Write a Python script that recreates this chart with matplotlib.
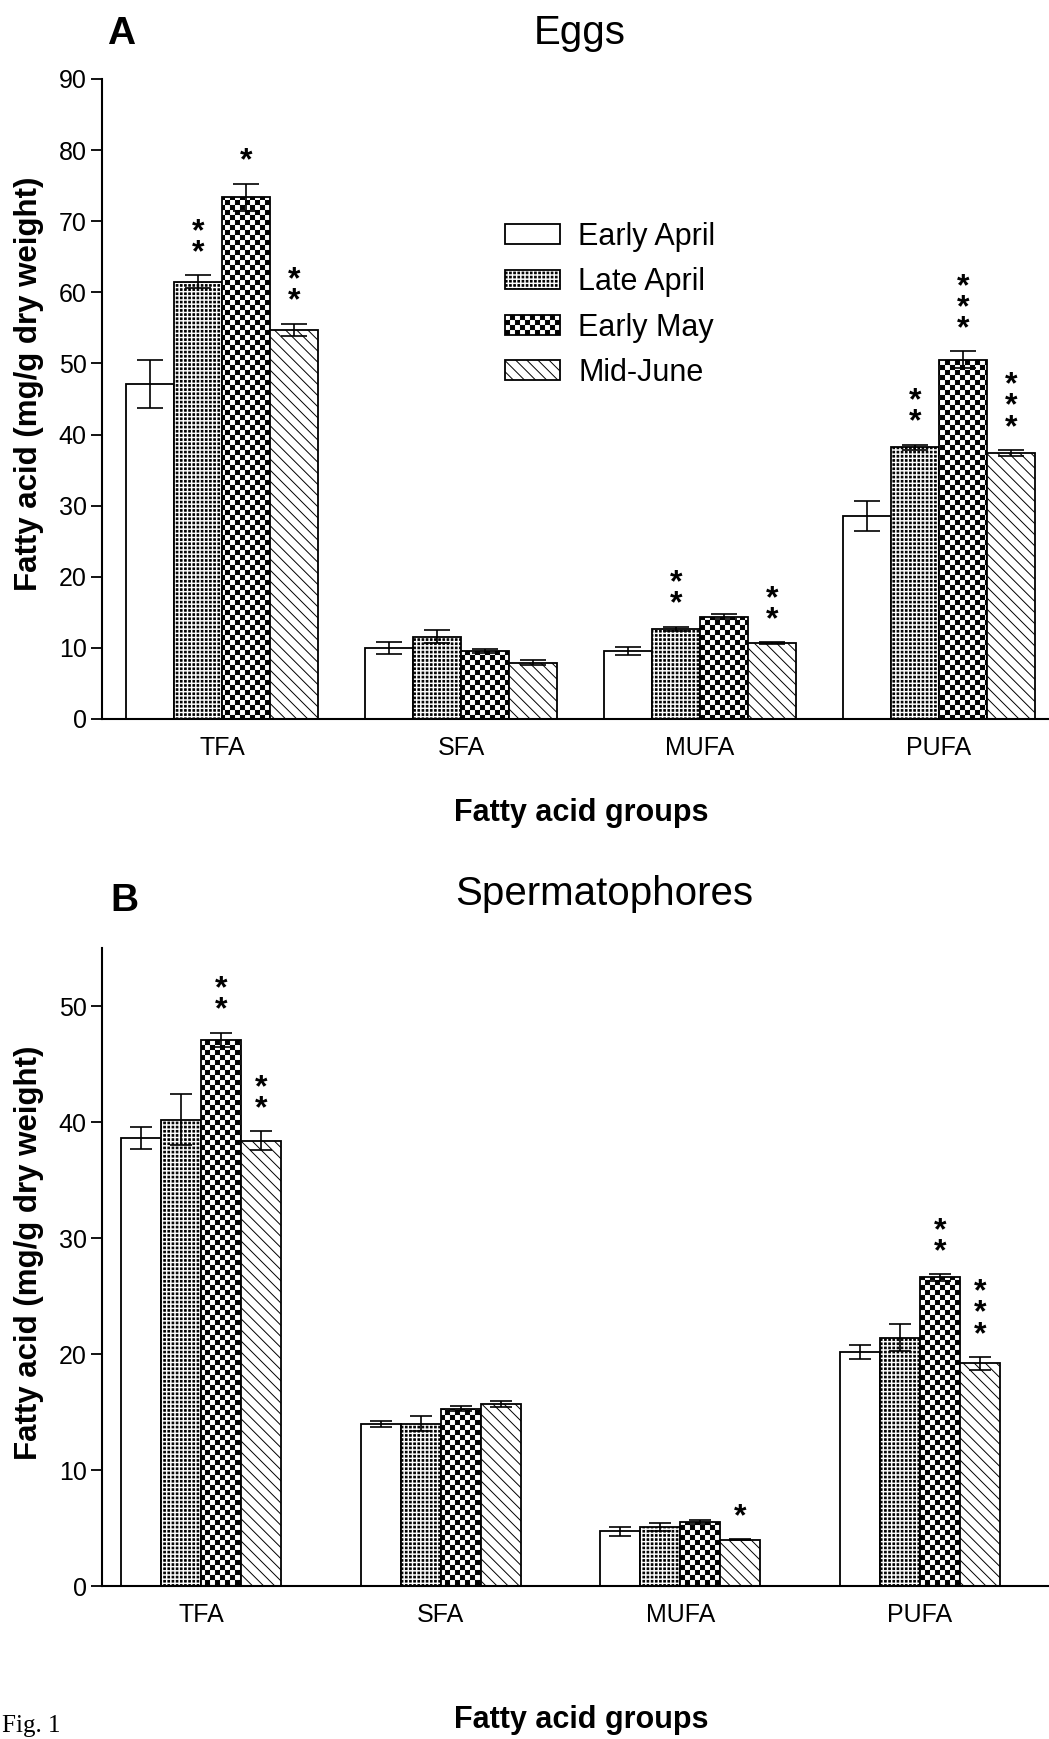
import numpy as np
import matplotlib
matplotlib.use('Agg')
import matplotlib.pyplot as plt
import matplotlib.hatch as mhatch
from matplotlib.path import Path

groups = ['TFA', 'SFA', 'MUFA', 'PUFA']
seasons = ['Early April', 'Late April', 'Early May', 'Mid-June']

# panel A - eggs (mg/g dry weight), one list per sampling date
eggs_early_april = [47.1, 10.0, 9.6, 28.5]
eggs_late_april = [61.5, 11.6, 12.7, 38.2]
eggs_early_may = [73.4, 9.6, 14.4, 50.5]
eggs_mid_june = [54.7, 7.9, 10.7, 37.4]
eggs_err_early_april = [3.4, 0.85, 0.55, 2.1]
eggs_err_late_april = [0.9, 0.95, 0.3, 0.4]
eggs_err_early_may = [1.9, 0.25, 0.35, 1.2]
eggs_err_mid_june = [0.9, 0.35, 0.1, 0.45]
eggs_sig_early_april = ['', '', '', '']
eggs_sig_late_april = ['**', '', '**', '**']
eggs_sig_early_may = ['*', '', '', '***']
eggs_sig_mid_june = ['**', '', '**', '***']

# panel B - spermatophores
sperm_early_april = [38.6, 14.0, 4.7, 20.2]
sperm_late_april = [40.2, 14.0, 5.05, 21.4]
sperm_early_may = [47.1, 15.3, 5.5, 26.6]
sperm_mid_june = [38.4, 15.7, 4.0, 19.2]
sperm_err_early_april = [0.95, 0.25, 0.4, 0.6]
sperm_err_late_april = [2.2, 0.65, 0.35, 1.15]
sperm_err_early_may = [0.6, 0.2, 0.15, 0.3]
sperm_err_mid_june = [0.8, 0.25, 0.05, 0.55]
sperm_sig_early_april = ['', '', '', '']
sperm_sig_late_april = ['', '', '', '']
sperm_sig_early_may = ['**', '', '', '**']
sperm_sig_mid_june = ['**', '', '*', '***']

eggs_ticks = np.arange(0, 91, 10)
sperm_ticks = np.arange(0, 51, 10)


class SquareHatch(mhatch.HatchPatternBase):
    # filled squares on a plain grid, either every cell or a checkerboard
    char = '.'
    cells = 6
    fill = 0.3
    checker = False

    def __init__(self, hatch, density):
        self.n = hatch.count(self.char) * self.cells
        count = self.n * self.n // 2 if self.checker else self.n * self.n
        self.num_vertices = count * 5

    def set_vertices_and_codes(self, vertices, codes):
        step = 1.0 / self.n
        side = step * self.fill
        sq = np.array([[0, 0], [side, 0], [side, side], [0, side], [0, 0]])
        k = 0
        for i in range(self.n):
            for j in range(self.n):
                if self.checker and (i + j) % 2:
                    continue
                vertices[k:k + 5] = sq + [i * step + (step - side) / 2,
                                          j * step + (step - side) / 2]
                codes[k:k + 5] = [Path.MOVETO, Path.LINETO, Path.LINETO,
                                  Path.LINETO, Path.CLOSEPOLY]
                k += 5


class DotHatch(SquareHatch):
    char = '.'
    cells = 6
    fill = 0.4


class CheckerHatch(SquareHatch):
    char = '*'
    cells = 10
    fill = 0.82
    checker = True


mhatch._hatch_types = [t for t in mhatch._hatch_types
                       if t not in (mhatch.SmallFilledCircles, mhatch.Stars)]
mhatch._hatch_types += [DotHatch, CheckerHatch]

plt.rcParams['font.family'] = ['Liberation Sans', 'DejaVu Sans']
plt.rcParams['hatch.linewidth'] = 0.7

hatches = ['', '....', '**', '\\\\\\']


def draw_panel(ax, means, errs, sigs, width, xlim, ticks, capsize):
    x = np.arange(len(groups))
    for i, name in enumerate(seasons):
        pos = x + (i - 1.5) * width
        ax.bar(pos, means[i], width, color='white', edgecolor='black',
               linewidth=1.3, hatch=hatches[i], label=name, zorder=2)
        ax.errorbar(pos, means[i], yerr=errs[i], fmt='none', ecolor='black',
                    elinewidth=1.2, capsize=capsize, capthick=1.2, zorder=3)
        for p, m, e, s in zip(pos, means[i], errs[i], sigs[i]):
            if s:
                ax.annotate('\n'.join(s), xy=(p, m + e), xytext=(0, 5),
                            textcoords='offset points', ha='center',
                            va='bottom', fontsize=23, fontweight='bold',
                            linespacing=0.62)
    ax.set_xlim(*xlim)
    ax.set_ylim(ticks[0], ticks[-1] + (5 if ticks[-1] == 50 else 0))
    ax.set_yticks(ticks)
    ax.set_xticks(x)
    ax.set_xticklabels(groups)
    ax.spines['top'].set_visible(False)
    ax.spines['right'].set_visible(False)
    ax.spines['left'].set_linewidth(1.5)
    ax.spines['bottom'].set_linewidth(1.5)
    ax.tick_params(axis='y', length=8, width=1.3, pad=3, labelsize=18)
    ax.tick_params(axis='x', length=0, pad=12, labelsize=18)
    ax.set_xlabel('Fatty acid groups', fontsize=22, fontweight='bold',
                  va='center')
    ax.set_ylabel('Fatty acid (mg/g dry weight)', fontsize=22.5,
                  fontweight='bold', va='center')


fig = plt.figure(figsize=(10.49, 17.39), dpi=100)
W, H = 1049, 1739
axA = fig.add_axes([102 / W, 1 - 719 / H, 947 / W, 640 / H])
axB = fig.add_axes([102 / W, 1 - 1586 / H, 947 / W, 638 / H])

draw_panel(axA,
           [eggs_early_april, eggs_late_april, eggs_early_may, eggs_mid_june],
           [eggs_err_early_april, eggs_err_late_april, eggs_err_early_may,
            eggs_err_mid_june],
           [eggs_sig_early_april, eggs_sig_late_april, eggs_sig_early_may,
            eggs_sig_mid_june],
           0.2, (-0.502, 3.46), eggs_ticks, 9.5)
draw_panel(axB,
           [sperm_early_april, sperm_late_april, sperm_early_may,
            sperm_mid_june],
           [sperm_err_early_april, sperm_err_late_april, sperm_err_early_may,
            sperm_err_mid_june],
           [sperm_sig_early_april, sperm_sig_late_april, sperm_sig_early_may,
            sperm_sig_mid_june],
           0.167, (-0.414, 3.54), sperm_ticks, 8)

axA.xaxis.set_label_coords(0.506, -0.147)
axA.yaxis.set_label_coords(-0.077, 0.524)
axB.xaxis.set_label_coords(0.506, -0.21)
axB.yaxis.set_label_coords(-0.077, 0.523)

axA.legend(loc='upper left', bbox_to_anchor=(505 / W, 1 - 222 / H),
           bbox_transform=fig.transFigure, frameon=False, fontsize=22,
           borderpad=0, borderaxespad=0, handlelength=1.8, handleheight=0.62,
           handletextpad=0.59, labelspacing=0.5)

fig.text(580 / W, 1 - 44 / H, 'Eggs', fontsize=29, ha='center', va='baseline')
fig.text(107 / W, 1 - 44 / H, 'A', fontsize=28, fontweight='bold',
         va='baseline')
fig.text(604 / W, 1 - 905 / H, 'Spermatophores', fontsize=29, ha='center',
         va='baseline')
fig.text(110 / W, 1 - 911 / H, 'B', fontsize=28, fontweight='bold',
         va='baseline')
fig.text(2 / W, 2 / H, 'Fig. 1', fontsize=18,
         family=['Liberation Serif', 'DejaVu Serif'], va='bottom')

fig.savefig('out.png', dpi=100)
